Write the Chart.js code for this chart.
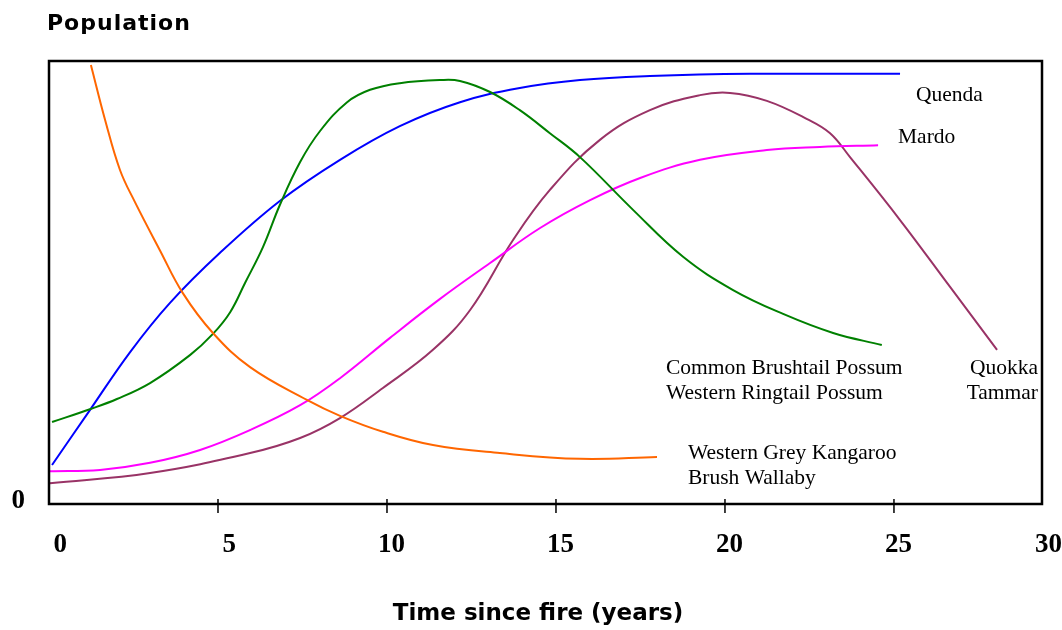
<!DOCTYPE html>
<html>
<head>
<meta charset="utf-8">
<script src="https://cdn.jsdelivr.net/npm/chart.js@4"></script>
<style>
  body { margin: 0; background: #fff; }
</style>
</head>
<body>
<canvas id="fire" width="1062" height="630"></canvas>
<script>
const ctx = document.getElementById('fire');

// values (x = years since fire, y = relative population 0-100)
const kangarooX = [1.24, 1.66, 2.1, 2.54, 3.28, 3.96, 4.85, 5.95, 7.63, 8.61, 9.88, 11.36, 13.34, 15.71, 17.99]
const kangarooY = [99.1, 86.7, 75.4, 68.2, 57.3, 47.6, 38.6, 30.9, 23.5, 19.9, 16.3, 13.3, 11.5, 10.2, 10.6]

const possumX = [0.09, 1.21, 2.01, 2.99, 4.17, 4.85, 5.36, 5.8, 6.33, 6.83, 7.43, 8.02, 8.82, 9.5, 10.38, 11.57, 12.16, 13.05, 13.93, 14.82, 15.71, 17.28, 18.76, 20.24, 21.72, 23.2, 24.64]
const possumY = [18.5, 21.4, 23.7, 27.3, 33.6, 38.4, 43.3, 49.9, 58.0, 67.5, 77.2, 84.2, 90.7, 93.5, 95.0, 95.7, 95.5, 93.0, 88.9, 83.7, 78.3, 66.4, 55.8, 48.3, 42.9, 38.6, 35.9]

const quendaX = [0.09, 1.21, 2.4, 3.58, 5.06, 6.83, 8.61, 10.38, 12.16, 13.93, 15.71, 17.78, 20.74, 25.18]
const quendaY = [8.8, 21.2, 34.3, 45.4, 56.7, 68.4, 77.7, 85.3, 90.7, 93.9, 95.7, 96.6, 97.1, 97.1]

const mardoX = [0.03, 1.51, 2.99, 4.47, 5.95, 7.43, 8.61, 10.09, 11.57, 13.05, 14.53, 16.01, 17.49, 19.26, 21.24, 22.81, 24.53]
const mardoY = [7.4, 7.7, 9.3, 12.2, 16.7, 22.3, 28.4, 37.5, 46.3, 54.4, 62.3, 68.6, 73.6, 77.7, 79.9, 80.6, 81.0]

const quokkaX = [0.03, 2.99, 5.95, 7.43, 8.61, 9.88, 11.36, 12.46, 13.73, 14.82, 16.3, 17.78, 19.26, 20.15, 21.24, 22.43, 23.11, 23.7, 25.18, 26.66, 28.05]
const quokkaY = [4.7, 7.0, 11.5, 14.9, 19.4, 26.2, 34.8, 43.8, 59.6, 70.9, 82.2, 88.9, 92.3, 92.8, 91.0, 86.9, 83.7, 78.3, 64.1, 49.0, 34.8]

const xTicks = [0, 5, 10, 15, 20, 25, 30]

// text next to each curve: [lines, x, first baseline, align]
const curveLabels = [
    [['Quenda'], 916, 101, 'left'],
    [['Mardo'], 898, 143, 'left'],
    [['Common Brushtail Possum', 'Western Ringtail Possum'], 666, 374, 'left'],
    [['Quokka', 'Tammar'], 1038, 374, 'right'],
    [['Western Grey Kangaroo', 'Brush Wallaby'], 688, 459, 'left']
]

function points(xs, ys) {
    return xs.map((x, i) => ({ x: x, y: ys[i] }))
}

function line(data, color) {
    return {
        data: data,
        borderColor: color,
        borderWidth: 2,
        pointRadius: 0,
        fill: false,
        tension: 0.4
    }
}

// draws the frame, ticks and all the text around the plot
const decorations = {
    id: 'decorations',
    afterDatasetsDraw(chart) {
        const c = chart.ctx
        const area = chart.chartArea
        const xs = chart.scales.x
        c.save()
        c.strokeStyle = '#000'
        c.lineWidth = 2.5
        c.strokeRect(area.left, area.top, area.right - area.left, area.bottom - area.top)

        c.lineWidth = 1.5
        c.fillStyle = '#000'
        c.font = 'bold 27px "Liberation Serif", "Times New Roman", serif'
        c.textAlign = 'right'
        c.textBaseline = 'alphabetic'
        for (const t of xTicks) {
            const px = xs.getPixelForValue(t)
            if (t > 0 && px < area.right) {
                c.beginPath()
                c.moveTo(px, area.bottom - 5)
                c.lineTo(px, area.bottom + 9)
                c.stroke()
            }
            c.fillText(String(t), Math.min(px + 18, 1062), 552)
        }
        c.fillText('0', 25, 508)

        c.font = '21.5px "Liberation Serif", "Times New Roman", serif'
        for (const [lines, x, y, align] of curveLabels) {
            c.textAlign = align
            lines.forEach((txt, i) => c.fillText(txt, x, y + i * 25))
        }

        c.textAlign = 'left'
        c.letterSpacing = '1px'
        c.font = 'bold 22px "DejaVu Sans", sans-serif'
        c.fillText('Population', 47, 30)
        c.textAlign = 'center'
        c.letterSpacing = '0px'
        c.font = 'bold 23px "DejaVu Sans", sans-serif'
        c.fillText('Time since fire (years)', 538, 620)
        c.restore()
    }
}

new Chart(ctx, {
    type: 'line',
    data: {
        datasets: [
            line(points(kangarooX, kangarooY), '#FF6600'),
            line(points(possumX, possumY), '#008000'),
            line(points(quendaX, quendaY), '#0000FF'),
            line(points(mardoX, mardoY), '#FF00FF'),
            line(points(quokkaX, quokkaY), '#993366')
        ]
    },
    options: {
        responsive: false,
        animation: false,
        layout: { padding: { left: 49, top: 61, right: 20, bottom: 126 } },
        plugins: { legend: { display: false }, tooltip: { enabled: false } },
        scales: {
            x: { type: 'linear', min: 0, max: 29.38, display: false },
            y: { min: 0, max: 100, display: false }
        }
    },
    plugins: [decorations]
});
</script>
</body>
</html>
